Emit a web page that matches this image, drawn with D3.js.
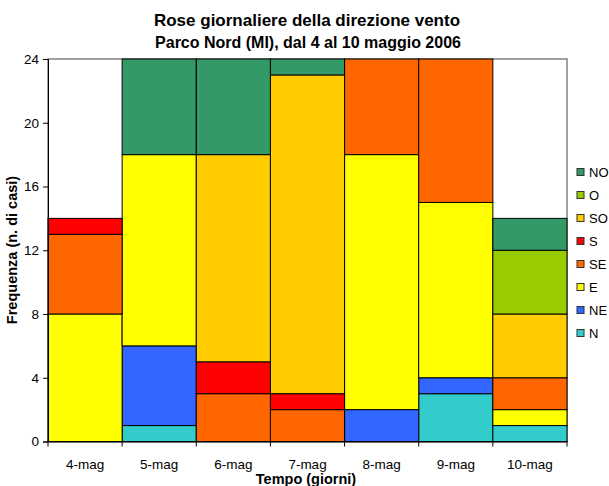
<!DOCTYPE html>
<html>
<head>
<meta charset="utf-8">
<script src="https://d3js.org/d3.v7.min.js"></script>
<style>
  body { margin: 0; background: #fff; }
  text { font-family: "Liberation Sans", Arial, sans-serif; fill: #000; }
</style>
</head>
<body>
<div id="container"></div>
<script>
// Data
const days = ["4-mag", "5-mag", "6-mag", "7-mag", "8-mag", "9-mag", "10-mag"]
const directions = ["N", "NE", "E", "SE", "S", "SO", "O", "NO"]
const colors = ["#33CCCC", "#3366FF", "#FFFF00", "#FF6600", "#FF0000", "#FFCC00", "#99CC00", "#339966"]
const N  = [0, 1, 0, 0, 0, 3, 1]
const NE = [0, 5, 0, 0, 2, 1, 0]
const E  = [8, 12, 0, 0, 16, 11, 1]
const SE = [5, 0, 3, 2, 6, 9, 2]
const S  = [1, 0, 2, 1, 0, 0, 0]
const SO = [0, 0, 13, 20, 0, 0, 4]
const O  = [0, 0, 0, 0, 0, 0, 4]
const NO = [0, 6, 6, 1, 0, 0, 2]
const yTicks = [0, 4, 8, 12, 16, 20, 24]

const series = { N, NE, E, SE, S, SO, O, NO }
const table = days.map((d, i) => {
    const row = { day: d }
    directions.forEach(k => row[k] = series[k][i])
    return row
})

const w = 609, h = 486
const plotL = 48, plotR = 567, plotT = 59, plotB = 441.5

const svg = d3.select("#container").append("svg")
    .attr("width", w).attr("height", h)

const xScale = d3.scaleBand().domain(days).range([plotL, plotR]).padding(0)
const yScale = d3.scaleLinear().domain([0, 24]).range([plotB, plotT])
const color = d3.scaleOrdinal().domain(directions).range(colors)

// Title
svg.append("text").attr("x", 307).attr("y", 26).attr("text-anchor", "middle")
    .style("font-size", "17px").style("font-weight", "bold")
    .text("Rose giornaliere della direzione vento")
svg.append("text").attr("x", 308).attr("y", 48).attr("text-anchor", "middle")
    .style("font-size", "16px").style("font-weight", "bold")
    .text("Parco Nord (MI), dal 4 al 10 maggio 2006")

// Plot area frame
svg.append("rect").attr("x", plotL).attr("y", plotT)
    .attr("width", plotR - plotL).attr("height", plotB - plotT)
    .attr("fill", "#fff").attr("stroke", "#808080").attr("stroke-width", 1.5)

// Stacked bars
const stack = d3.stack().keys(directions)(table)
svg.append("g").selectAll("g")
    .data(stack).enter().append("g")
    .attr("fill", d => color(d.key))
    .selectAll("rect")
    .data(d => d.filter(s => s[1] - s[0] > 0))
    .enter().append("rect")
    .attr("x", d => xScale(d.data.day))
    .attr("y", d => yScale(d[1]))
    .attr("width", xScale.bandwidth())
    .attr("height", d => yScale(d[0]) - yScale(d[1]))
    .attr("stroke", "#000").attr("stroke-width", 1)

// Axes
const yAxis = d3.axisLeft(yScale).tickValues(yTicks).tickSize(5).tickPadding(4)
const gy = svg.append("g").attr("transform", `translate(${plotL},0)`).call(yAxis)
gy.selectAll("text").style("font-size", "13.5px").attr("font-family", null)
gy.select(".domain").attr("stroke", "#000")

const xAxis = d3.axisBottom(xScale).tickSize(0).tickPadding(0)
const gx = svg.append("g").attr("transform", `translate(0,${plotB})`).call(xAxis)
gx.selectAll("text").style("font-size", "13.5px").attr("font-family", null).attr("dy", null).attr("y", 27)
gx.select(".domain").attr("stroke", "#000")
gx.selectAll(".bound").data(d3.range(days.length + 1)).enter().append("line")
    .attr("x1", i => plotL + i * xScale.step()).attr("x2", i => plotL + i * xScale.step())
    .attr("y1", 0).attr("y2", 5).attr("stroke", "#000")

// Axis titles
svg.append("text").attr("x", 306).attr("y", 484).attr("text-anchor", "middle")
    .style("font-size", "14.5px").style("font-weight", "bold").text("Tempo (giorni)")
svg.append("text").attr("transform", `translate(17,250) rotate(-90)`)
    .attr("text-anchor", "middle")
    .style("font-size", "14.5px").style("font-weight", "bold").text("Frequenza (n. di casi)")

// Legend
const legendItems = directions.slice().reverse()
const lg = svg.append("g").selectAll("g").data(legendItems).enter().append("g")
    .attr("transform", (d, i) => `translate(577,${172 + i * 23})`)
lg.append("rect").attr("x", 0).attr("y", -3.5).attr("width", 7).attr("height", 7)
    .attr("fill", d => color(d)).attr("stroke", "#333").attr("stroke-width", 1)
lg.append("text").attr("x", 12).attr("y", 5).style("font-size", "13px").text(d => d)
</script>
</body>
</html>
